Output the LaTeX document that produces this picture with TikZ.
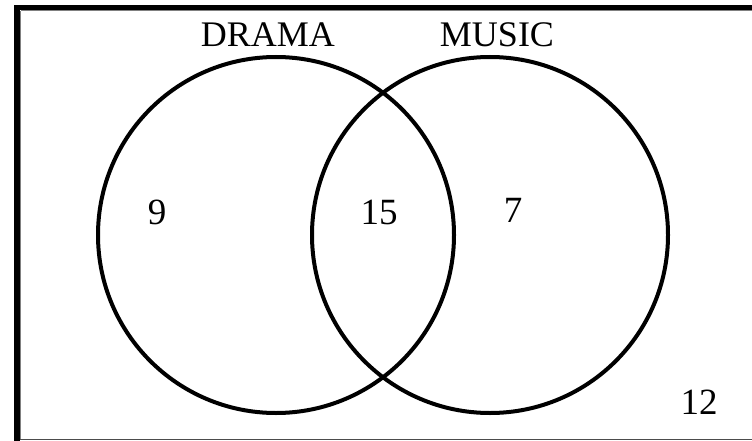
\documentclass[tikz,border=0pt]{standalone}
\usepackage{fontspec}
\setmainfont{Liberation Serif}
\begin{document}
\begin{tikzpicture}[x=1pt,y=-1pt,
  setring/.style={line width=4pt},
  lbl/.style={font=\fontsize{36}{40}\selectfont, inner sep=0pt},
  num/.style={font=\fontsize{37}{40}\selectfont, inner sep=0pt}]
\useasboundingbox (0,0) rectangle (752,441);
% frame
\draw[line width=5.5pt, line cap=rect] (17,7.5) -- (752,7.5);
\draw[line width=5.5pt] (17,7.5) -- (17,441);
\draw[gray, line width=1pt] (20.5,11) -- (752,11);
\draw[gray, line width=1pt] (20.5,11) -- (20.5,439.5);
\draw[black!70, line width=1.3pt] (20,439.5) -- (752,439.5);
% circles
\draw[setring] (276,235) circle[radius=178];
\draw[setring] (490,235) circle[radius=178];
% labels
\node[lbl] (drama) at (268,35) {DRAMA};
\node[lbl] (music) at (497,35) {MUSIC};
\node[num] (nine) at (157,212) {9};
\node[num] (fifteen) at (379,212) {15};
\node[num] (seven) at (513,210) {7};
\node[num] (twelve) at (699,402) {12};
\end{tikzpicture}
\end{document}
